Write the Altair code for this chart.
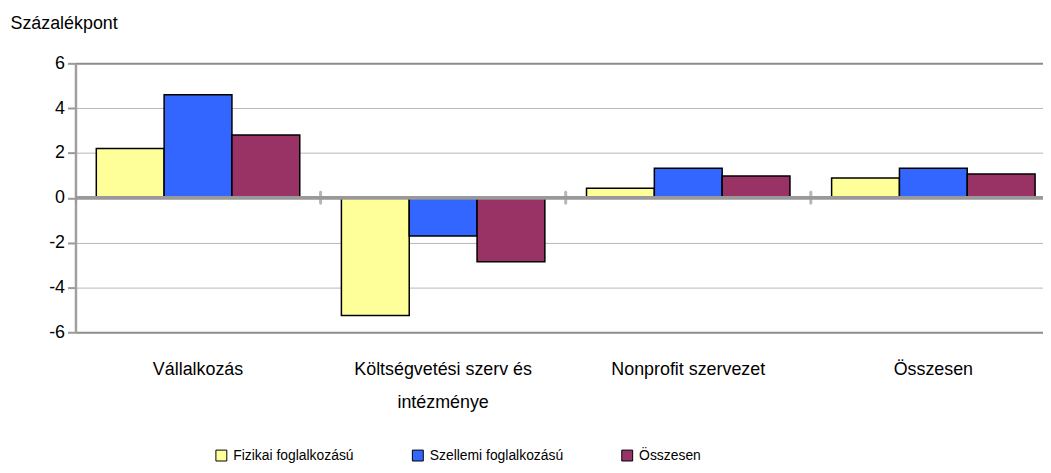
import altair as alt
import pandas as pd

categories = ["Vállalkozás", "Költségvetési szerv és intézménye", "Nonprofit szervezet", "Összesen"]
series = ["Fizikai foglalkozású", "Szellemi foglalkozású", "Összesen"]
fizikai = [2.2, -5.25, 0.43, 0.88]
szellemi = [4.6, -1.7, 1.32, 1.32]
osszesen = [2.8, -2.85, 0.97, 1.06]
colors = ["#FFFF99", "#3366FF", "#993366"]
y_ticks = [-6, -4, -2, 0, 2, 4, 6]

rows = []
for s, vals in zip(series, [fizikai, szellemi, osszesen]):
    for c, v in zip(categories, vals):
        rows.append({"cat": c, "series": s, "value": v})
df = pd.DataFrame(rows)
cat_df = pd.DataFrame({"cat": categories})

FONT = "Liberation Sans"
W, H = 975, 271
BAND_RANGE = 988

xscale = alt.Scale(domain=categories, range=[0, BAND_RANGE], paddingInner=0, paddingOuter=0)

bars = alt.Chart(df).mark_bar(stroke="black", strokeWidth=1.5).encode(
    x=alt.X("cat:N", scale=xscale, sort=categories,
            axis=alt.Axis(title=None, orient="bottom", domain=False, ticks=False, grid=False,
                          labelAngle=0, labelFont=FONT, labelFontSize=18, labelColor="#000",
                          labelPadding=29, labelLineHeight=33, labelBaseline="top",
                          labelExpr="datum.label == 'Költségvetési szerv és intézménye' ? ['Költségvetési szerv és', 'intézménye'] : datum.label")),
    xOffset=alt.XOffset("series:N", sort=series,
                        scale=alt.Scale(domain=series, paddingInner=0, paddingOuter=0.307)),
    y=alt.Y("value:Q", scale=alt.Scale(domain=[-6, 6], nice=False),
            axis=alt.Axis(values=y_ticks, title="Százalékpont", titleAngle=0, titleAlign="left",
                          titleBaseline="middle", titleX=-66, titleY=-40, titleFont=FONT,
                          titleFontSize=18, titleFontWeight="normal", titleColor="#000",
                          labelExpr="'' + datum.value",
                          labelFont=FONT, labelFontSize=18, labelColor="#000", labelPadding=3,
                          tickSize=8, tickWidth=2, tickColor="#999999",
                          domainColor="#a0a0a0", domainWidth=2.5,
                          gridColor={"condition": {"test": "abs(datum.value) == 6", "value": "#8c8c8c"}, "value": "#b8b8b8"},
                          gridWidth={"condition": {"test": "abs(datum.value) == 6", "value": 2}, "value": 1})),
    color=alt.Color("series:N", scale=alt.Scale(domain=series, range=colors),
                    legend=alt.Legend(title=None, orient="none", direction="horizontal",
                                      legendX=140, legendY=388, columns=3, columnPadding=56,
                                      symbolType="square", symbolSize=121, symbolStrokeColor="black",
                                      symbolStrokeWidth=1, labelFont=FONT,
                                      labelFontSize=14, labelColor="#000", labelOffset=5, padding=0)),
)

zero = alt.Chart(cat_df).mark_rule(color="#999999", strokeWidth=3).encode(y=alt.datum(0))

ticks = alt.Chart(cat_df).mark_tick(color="#999999", orient="vertical", size=14, thickness=3,
                                    cornerRadius=1.5, clip=True).encode(
    x=alt.X("cat:N", scale=xscale, sort=categories, bandPosition=0),
    y=alt.datum(0),
)

chart = alt.layer(bars, zero, ticks).properties(
    width=W, height=H,
    autosize=alt.AutoSizeParams(type="none"),
    padding={"left": 68, "top": 54, "right": 0, "bottom": 132},
).configure_view(stroke=None)

chart.save("out.html", embed_options={"renderer": "svg", "actions": False})
